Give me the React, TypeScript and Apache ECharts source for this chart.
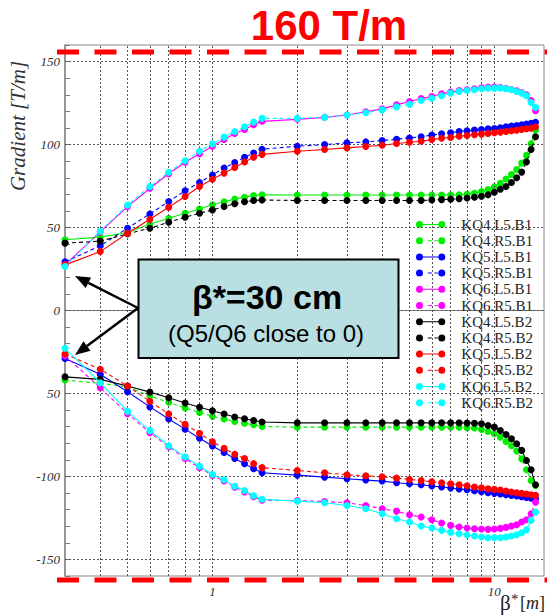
import React, { useEffect, useRef } from 'react';
import * as echarts from 'echarts';

// beta* scan points [m]
const betaValues = [
  0.3, 0.4, 0.5, 0.6, 0.7, 0.8, 0.9, 1.0, 1.1, 1.2, 1.3, 1.4, 1.5,
  2, 2.5, 3, 3.5, 4, 4.5, 5, 5.5, 6, 6.5, 7, 7.5, 8, 8.5, 9, 9.5, 10,
  10.5, 11, 11.5, 12, 12.5, 13, 13.5, 14,
];

// gradients [T/m]
const kq4L5B1 = [
  42.6, 44.2, 47, 52, 55.6, 58.6, 61.2, 63.7, 65.5, 67.1, 68.3, 69.3, 69.8,
  69.6, 69.6, 69.6, 69.6, 69.6, 69.6, 69.6, 69.6, 69.6, 69.6, 69.6, 69.7, 70, 70.7, 71.7, 72.9, 74.6,
  76.7, 79.3, 82, 85, 88.8, 93.5, 100.5, 108.8,
];
const kq4R5B1 = [
  -41.9, -43.9, -45.9, -51.6, -55.3, -58.7, -61.4, -63.8, -65.4, -66.9, -67.9, -68.9, -69.9,
  -70.3, -70.3, -70.3, -70.3, -70.3, -70.3, -70.3, -70.3, -70.3, -70.3, -70.3, -70.4, -70.6, -70.8, -71.7, -72.9, -74.3,
  -76.3, -79, -81.5, -84.7, -89.4, -96, -102.4, -105.5,
];
const kq5L5B1 = [
  -28.9, -38.4, -49, -58.1, -65.4, -71.5, -77, -81.7, -85.6, -89.2, -92.3, -95.3, -97.8,
  -99.2, -100.4, -101.4, -102.2, -102.8, -103.8, -104.4, -105, -105.8, -106.4, -107, -107.6, -108, -108.6, -109.2, -109.8, -110.2,
  -110.6, -111, -111.4, -111.8, -112.2, -112.7, -113.1, -113.5,
];
const kq5R5B1 = [
  29.3, 39, 49.6, 58.2, 65.7, 72.1, 77.1, 81.7, 85.9, 89.1, 92.3, 94.9, 97.2,
  99, 100, 101, 101.6, 102.4, 103.2, 104, 104.7, 105.7, 106.5, 107.1, 107.9, 108.3, 108.7, 109.1, 109.5, 109.7,
  110.1, 110.7, 111.1, 111.5, 111.9, 112.3, 112.8, 113.4,
];
const kq6L5B1 = [
  27.5, 47.4, 62.6, 73.7, 82.4, 89.3, 94.5, 99, 103, 106.7, 109.1, 111.9, 114,
  115.2, 116.4, 117.8, 119.8, 121.5, 123.9, 125.9, 127.7, 129, 130.6, 131.6, 132.6, 133, 133.6, 134.2, 134.6, 134.6,
  134.4, 133.8, 133.2, 132.4, 131.4, 130, 126.5, 120.4,
];
const kq6R5B1 = [
  -27.2, -46.5, -62.2, -73.6, -82.1, -89.2, -94.7, -99.4, -102.8, -106.5, -109.3, -112.2, -114.4,
  -114.5, -115.1, -115.9, -117.5, -119.5, -120.9, -123.1, -124.5, -126.1, -128.1, -129.5, -130.5, -131.1, -131.5, -131.7, -131.9, -131.7,
  -131.3, -130.7, -129.9, -129.1, -127.5, -126.1, -122.5, -115.5,
];
const kq4L5B2 = [
  -40, -41.5, -45.5, -49.2, -52.6, -55.7, -58.3, -60.4, -62.4, -64.2, -65.2, -66.3, -67.2,
  -67.7, -67.7, -67.7, -67.7, -67.7, -67.7, -67.7, -67.7, -67.7, -67.7, -67.7, -67.7, -67.8, -67.9, -68.3, -69.3, -70.3,
  -72.3, -74.7, -77.3, -80.3, -84.3, -90.4, -96, -105,
];
const kq4R5B2 = [
  40.6, 41.8, 46.2, 49.6, 53.2, 56.2, 58.6, 60.6, 62.7, 64.3, 65.5, 66.3, 66.6,
  66.3, 66.3, 66.3, 66.3, 66.3, 66.3, 66.3, 66.3, 66.6, 66.8, 67, 67.4, 67.8, 68.2, 68.8, 69.8, 71.3,
  73.1, 74.7, 77.1, 80, 83.4, 89.5, 97, 104.7,
];
const kq5L5B2 = [
  27.5, 35.5, 46.6, 55, 62.2, 68.7, 74.7, 79.1, 82.8, 86.2, 89.5, 92.3, 94.1,
  96, 97, 98, 98.8, 99.6, 100.6, 101.4, 102, 103, 103.8, 104.3, 105, 105.5, 105.9, 106.3, 106.7, 107.1,
  107.5, 107.9, 108.3, 108.7, 109.1, 109.5, 109.9, 110.7,
];
const kq5R5B2 = [
  -26.2, -35.4, -45.5, -54.7, -62.4, -68.5, -74, -79.1, -83.1, -86.6, -89.2, -92.3, -94.7,
  -96.4, -97.8, -99, -99.6, -100.2, -101, -101.8, -102.4, -103.2, -103.8, -104.4, -105, -105.6, -106.4, -106.8, -107.4, -107.8,
  -108.2, -108.8, -109.4, -109.8, -110.2, -110.6, -111, -111.4,
];
const kq6L5B2 = [
  -22.8, -43.5, -60.8, -72.4, -81.5, -88.2, -93.9, -98.8, -102, -105.9, -108.5, -111.6, -113.8,
  -114.9, -115.9, -117.5, -119.5, -122.5, -125.5, -127.5, -129.9, -131.1, -132.5, -133.7, -134.5, -135.3, -135.9, -136.5, -136.9, -136.9,
  -136.9, -136.5, -135.9, -135.1, -133.9, -132.1, -126.5, -121.5,
];
const kq6R5B2 = [
  26.5, 47.8, 63.5, 74.7, 83.3, 90.2, 96, 100.4, 104.5, 107.9, 110.7, 113.6, 115.8,
  115.8, 116.4, 117.8, 119.2, 120.9, 122.7, 124.3, 126.5, 127.9, 129.4, 131, 132, 132.6, 133, 133.6, 134, 134,
  134, 133.6, 133, 132, 131, 129.4, 125.3, 122.4,
];

const seriesNames = [
  'KQ4.L5.B1', 'KQ4.R5.B1', 'KQ5.L5.B1', 'KQ5.R5.B1', 'KQ6.L5.B1', 'KQ6.R5.B1',
  'KQ4.L5.B2', 'KQ4.R5.B2', 'KQ5.L5.B2', 'KQ5.R5.B2', 'KQ6.L5.B2', 'KQ6.R5.B2',
];
const seriesValues = [
  kq4L5B1, kq4R5B1, kq5L5B1, kq5R5B1, kq6L5B1, kq6R5B1,
  kq4L5B2, kq4R5B2, kq5L5B2, kq5R5B2, kq6L5B2, kq6R5B2,
];
const seriesColors = [
  '#00ee00', '#00ee00', '#0000ff', '#0000ff', '#ff00ff', '#ff00ff',
  '#000000', '#000000', '#ff0000', '#ff0000', '#00ffff', '#00ffff',
];
const seriesDashed = [false, true, false, true, false, true, false, true, false, true, false, true];

const xTickLabels = [
  { value: 1, text: '1' },
  { value: 10, text: '10' },
];
const yTickLabels = [
  { value: 150, text: '150' },
  { value: 100, text: '100' },
  { value: 50, text: '50' },
  { value: 0, text: '0' },
  { value: -50, text: '50' },
  { value: -100, text: '-100' },
  { value: -150, text: '-150' },
];
const xGridValues = [0.4, 0.5, 0.6, 0.7, 0.8, 0.9, 1, 2, 3, 4, 5, 6, 7, 8, 9, 10];
const yGridValues = [-150, -100, -50, 0, 50, 100, 150];

const SERIF = '"Liberation Serif", "Times New Roman", serif';
const SANS = '"Liberation Sans", Arial, sans-serif';

// legend glyph: marker - line - marker
const dot = (cx: number) => `M${cx - 3.5},3.5a3.5,3.5 0 1,0 7,0a3.5,3.5 0 1,0 -7,0Z`;
const solidIcon = 'path://' + dot(3.5) + dot(25.8) + 'M7,3H22.3V4H7Z';
const dashedIcon = 'path://' + dot(3.5) + dot(25.8) + 'M11.8,3H15.8V4H11.8Z' + 'M18.5,3H21.8V4H18.5Z';

const labelFor = (list: { value: number; text: string }[], v: number) => {
  const hit = list.find((t) => Math.abs(t.value - v) < 1e-6);
  return hit ? hit.text : '';
};

export default function App() {
  const ref = useRef<HTMLDivElement>(null);

  useEffect(() => {
    if (!ref.current) return;
    const chart = echarts.init(ref.current, undefined, { renderer: 'svg' });

    const gridLineStyle = { type: [2, 2] as number[], color: '#555', width: 1 };

    const series: any[] = [
      {
        name: 'grid-lines',
        type: 'line',
        data: [],
        silent: true,
        z: 1,
        markLine: {
          silent: true,
          symbol: ['none', 'none'],
          label: { show: false },
          lineStyle: gridLineStyle,
          animation: false,
          data: [
            ...xGridValues.map((v) => ({ xAxis: v })),
            ...yGridValues.map((v) => ({ yAxis: v })),
          ],
        },
      },
      ...seriesNames.map((name, i) => ({
        name,
        type: 'line',
        z: 3 + i,
        data: betaValues.map((b, k) => [b, seriesValues[i][k]]),
        symbol: 'circle',
        symbolSize: 7,
        itemStyle: { color: seriesColors[i], borderWidth: 0 },
        lineStyle: {
          color: seriesColors[i],
          width: 1.1,
          type: seriesDashed[i] ? [4, 3] : 'solid',
        },
        emphasis: { disabled: true },
      })),
    ];

    const option: any = {
      animation: false,
      backgroundColor: '#ffffff',
      grid: {
        left: 65,
        right: -4,
        top: 45,
        bottom: 40,
        show: true,
        borderColor: '#888',
        borderWidth: 1,
      },
      xAxis: {
        type: 'log',
        logBase: 10,
        min: 0.3,
        max: 15,
        axisLine: { show: true, lineStyle: { color: '#888', width: 1.2 } },
        axisTick: { show: false },
        splitLine: { show: false },
        axisLabel: {
          margin: 9,
          fontFamily: SERIF,
          fontStyle: 'italic',
          fontSize: 13,
          color: '#333',
          formatter: (v: number) => labelFor(xTickLabels, v),
        },
      },
      yAxis: {
        type: 'value',
        min: -160,
        max: 160,
        interval: 10,
        axisLine: { show: true, lineStyle: { color: '#888', width: 1.5 } },
        axisTick: { show: true, inside: true, length: 5, lineStyle: { color: '#777' } },
        splitLine: { show: false },
        axisLabel: {
          margin: 5,
          fontFamily: SERIF,
          fontStyle: 'italic',
          fontSize: 13,
          color: '#333',
          formatter: (v: number) => labelFor(yTickLabels, v),
        },
      },
      legend: {
        orient: 'vertical',
        left: 411,
        top: 212,
        itemWidth: 29.3,
        itemHeight: 7,
        itemGap: 1.2,
        selectedMode: false,
        itemStyle: { borderWidth: 0 },
        textStyle: {
          fontFamily: SERIF,
          fontSize: 15,
          color: '#222',
          padding: [0, 0, 0, 11],
        },
        data: seriesNames.map((name, i) => ({
          name,
          icon: seriesDashed[i] ? dashedIcon : solidIcon,
        })),
      },
      graphic: [
        // 160 T/m limit markers
        {
          type: 'text',
          x: 329,
          y: 25,
          z: 200,
          style: {
            text: '160 T/m',
            fill: '#ff0000',
            font: `bold 42px ${SANS}`,
            align: 'center',
            verticalAlign: 'middle',
          },
        },
        {
          type: 'line',
          z: 200,
          shape: { x1: 57, y1: 52, x2: 560, y2: 52 },
          style: { stroke: '#ff0000', lineWidth: 5, lineDash: [22, 15.5] },
        },
        {
          type: 'line',
          z: 200,
          shape: { x1: 57, y1: 580, x2: 560, y2: 580 },
          style: { stroke: '#ff0000', lineWidth: 5, lineDash: [22, 15.5] },
        },
        // axis titles
        {
          type: 'text',
          x: 18,
          y: 126,
          rotation: Math.PI / 2,
          z: 200,
          style: {
            text: 'Gradient [T/m]',
            fill: '#333',
            font: `italic 21px ${SERIF}`,
            align: 'center',
            verticalAlign: 'middle',
          },
        },
        {
          type: 'text',
          x: 500,
          y: 613,
          z: 200,
          style: { text: 'β', fill: '#222', font: `21px ${SERIF}`, align: 'left', verticalAlign: 'bottom' },
        },
        {
          type: 'text',
          x: 511,
          y: 591,
          z: 200,
          style: { text: '*', fill: '#222', font: `15px ${SERIF}`, align: 'left', verticalAlign: 'top' },
        },
        {
          type: 'text',
          x: 520,
          y: 612,
          z: 200,
          style: {
            text: '[{m|m}]',
            rich: { m: { font: `italic 18px ${SERIF}`, fill: '#222' } },
            fill: '#222',
            font: `18px ${SERIF}`,
            align: 'left',
            verticalAlign: 'bottom',
          },
        },
        // beta* = 30 cm callout
        {
          type: 'line',
          z: 210,
          shape: { x1: 138, y1: 308, x2: 88.4, y2: 282.8 },
          style: { stroke: '#000', lineWidth: 2.5 },
        },
        {
          type: 'polygon',
          z: 210,
          shape: { points: [[75, 276], [91.1, 277.5], [85.7, 288.1]] },
          style: { fill: '#000' },
        },
        {
          type: 'line',
          z: 210,
          shape: { x1: 138, y1: 308, x2: 87, y2: 346 },
          style: { stroke: '#000', lineWidth: 2.5 },
        },
        {
          type: 'polygon',
          z: 210,
          shape: { points: [[75, 355], [90.6, 350.8], [83.4, 341.2]] },
          style: { fill: '#000' },
        },
        {
          type: 'rect',
          z: 210,
          shape: { x: 138.5, y: 259.5, width: 260, height: 98.5 },
          style: { fill: '#b9dfe2', stroke: '#000', lineWidth: 2 },
        },
        {
          type: 'text',
          x: 267,
          y: 297,
          z: 220,
          style: {
            text: 'β*=30 cm',
            fill: '#000',
            font: `bold 34px ${SANS}`,
            align: 'center',
            verticalAlign: 'middle',
          },
        },
        {
          type: 'text',
          x: 266,
          y: 333,
          z: 220,
          style: {
            text: '(Q5/Q6 close to 0)',
            fill: '#000',
            font: `24px ${SANS}`,
            align: 'center',
            verticalAlign: 'middle',
          },
        },
      ],
      series,
    };

    chart.setOption(option);
    return () => chart.dispose();
  }, []);

  return (
    <div
      ref={ref}
      style={{ position: 'fixed', left: 0, top: 0, width: 547, height: 616, background: '#fff' }}
    />
  );
}
